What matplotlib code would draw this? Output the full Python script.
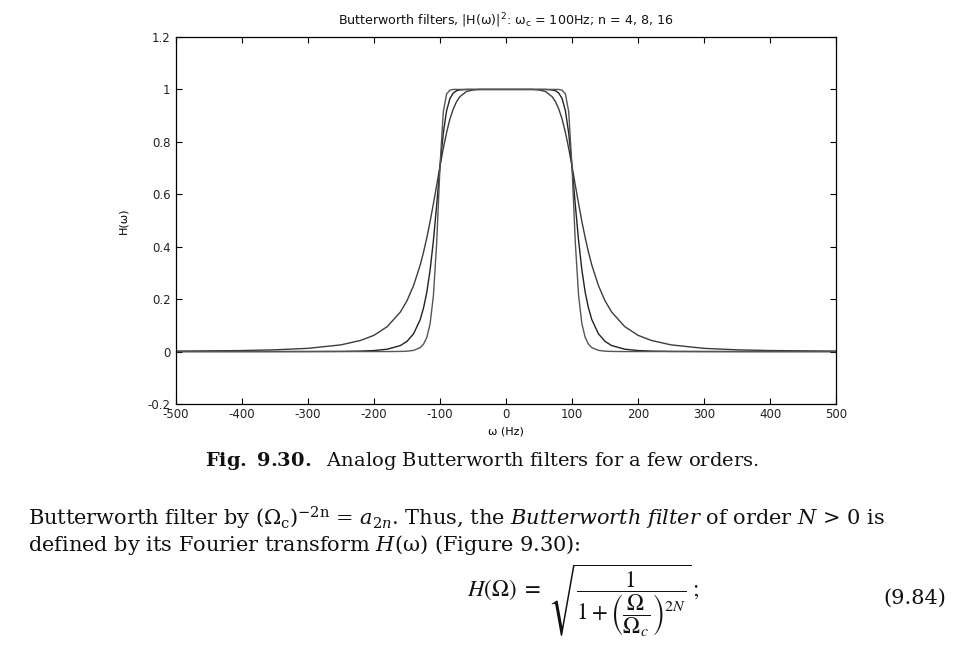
import matplotlib
matplotlib.use("Agg")
import matplotlib.pyplot as plt
import numpy as np

# frequency grid (Hz)
freq = [-500, -400, -350, -300, -250, -220, -200, -180, -160, -150, -140, -130, -125, -120,
        -115, -110, -105, -100, -95, -90, -85, -80, -75, -70, -60, -50, -40, 0,
        40, 50, 60, 70, 75, 80, 85, 90, 95, 100, 105, 110, 115, 120, 125, 130,
        140, 150, 160, 180, 200, 220, 250, 300, 350, 400, 500]

h_n4 = [0.0016, 0.0039, 0.0067, 0.0123, 0.0256, 0.0427, 0.062, 0.095, 0.151, 0.194, 0.252, 0.330, 0.379, 0.434,
        0.496, 0.564, 0.635, 0.707, 0.775, 0.836, 0.887, 0.925, 0.953, 0.972, 0.992, 0.998, 1.0, 1.0,
        1.0, 0.998, 0.992, 0.972, 0.953, 0.925, 0.887, 0.836, 0.775, 0.707, 0.635, 0.564, 0.496, 0.434, 0.379, 0.330,
        0.252, 0.194, 0.151, 0.095, 0.062, 0.0427, 0.0256, 0.0123, 0.0067, 0.0039, 0.0016]

h_n8 = [0.0, 0.0, 0.0, 0.0002, 0.0007, 0.0018, 0.0039, 0.009, 0.023, 0.039, 0.068, 0.122, 0.166, 0.226,
        0.311, 0.423, 0.560, 0.707, 0.833, 0.919, 0.965, 0.986, 0.995, 0.998, 1.0, 1.0, 1.0, 1.0,
        1.0, 1.0, 1.0, 0.998, 0.995, 0.986, 0.965, 0.919, 0.833, 0.707, 0.560, 0.423, 0.311, 0.226, 0.166, 0.122,
        0.068, 0.039, 0.023, 0.009, 0.0039, 0.0018, 0.0007, 0.0002, 0.0, 0.0, 0.0]

h_n16 = [0.0, 0.0, 0.0, 0.0, 0.0, 0.0, 0.0, 0.0, 0.0005, 0.0015, 0.0046, 0.015, 0.028, 0.054,
         0.106, 0.213, 0.416, 0.707, 0.915, 0.983, 0.997, 1.0, 1.0, 1.0, 1.0, 1.0, 1.0, 1.0,
         1.0, 1.0, 1.0, 1.0, 1.0, 1.0, 0.997, 0.983, 0.915, 0.707, 0.416, 0.213, 0.106, 0.054, 0.028, 0.015,
         0.0046, 0.0015, 0.0005, 0.0, 0.0, 0.0, 0.0, 0.0, 0.0, 0.0, 0.0]

xticks = [-500, -400, -300, -200, -100, 0, 100, 200, 300, 400, 500]
yticks = [-0.2, 0, 0.2, 0.4, 0.6, 0.8, 1, 1.2]
ytick_labels = ["-0.2", "0", "0.2", "0.4", "0.6", "0.8", "1", "1.2"]

sans = ["DejaVu Sans"]
serif = ["DejaVu Serif"]

fig = plt.figure(figsize=(9.6, 6.55), dpi=100)
ax = fig.add_axes([176 / 960, 1 - 404 / 655, 660 / 960, 367 / 655])

ax.plot(freq, h_n4, color="#3c3c3c", lw=1.0)
ax.plot(freq, h_n8, color="#222222", lw=1.0)
ax.plot(freq, h_n16, color="#555555", lw=1.0)

ax.set_xlim(-500, 500)
ax.set_ylim(-0.2, 1.2)
ax.set_xticks(xticks)
ax.set_xticklabels([str(t) for t in xticks], fontfamily=sans, fontsize=8.5, color="#222222")
ax.set_yticks(yticks)
ax.set_yticklabels(ytick_labels, fontfamily=sans, fontsize=8.5, color="#222222")
ax.tick_params(direction="in", length=4, width=0.8, top=True, right=True)
ax.tick_params(axis="x", pad=3)
ax.tick_params(axis="y", pad=4)
for s in ax.spines.values():
    s.set_linewidth(0.9)

title = ax.set_title(r"Butterworth filters, |H(ω)|$^2$: ω$_\mathregular{c}$ = 100Hz; n = 4, 8, 16",
                     fontfamily=sans, fontsize=8.5, pad=9, math_fontfamily="dejavusans", color="#111111")
ax.set_xlabel("ω (Hz)", fontfamily=sans, fontsize=8, labelpad=4)
ax.set_ylabel("H(ω)", fontfamily=sans, fontsize=8, labelpad=14)

cap = fig.text(482 / 960, 1 - 461 / 655,
               r"$\mathbf{Fig.\ 9.30.}$  Analog Butterworth filters for a few orders.",
               ha="center", va="center", fontfamily=serif, fontsize=12, math_fontfamily="dejavuserif",
               color="#111111")

line1 = fig.text(28 / 960, 1 - 518 / 655,
                 r"Butterworth filter by (Ω$_\mathregular{c}$)$^{-2\mathregular{n}}$ = $a_{2n}$. Thus, the $\mathit{Butterworth\ filter}$ of order $N$ > 0 is",
                 ha="left", va="center", fontfamily=serif, fontsize=15, math_fontfamily="dejavuserif",
                 color="#111111")
line2 = fig.text(28 / 960, 1 - 545 / 655,
                 r"defined by its Fourier transform $H$(ω) (Figure 9.30):",
                 ha="left", va="center", fontfamily=serif, fontsize=15, math_fontfamily="dejavuserif",
                 color="#111111")

eq = fig.text(583 / 960, 1 - 601 / 655,
              r"$H(\Omega)\ =\ \sqrt{\dfrac{1}{1+\left(\dfrac{\Omega}{\Omega_c}\right)^{2N}}}\,;$",
              ha="center", va="center", fontsize=14, math_fontfamily="stix", color="#111111")
num = fig.text(946 / 960, 1 - 598 / 655, "(9.84)", ha="right", va="center",
               fontfamily=serif, fontsize=15, color="#111111")


def fit_width(t, target_px, iters=2):
    for _ in range(iters):
        fig.canvas.draw()
        w = t.get_window_extent(fig.canvas.get_renderer()).width
        t.set_fontsize(t.get_fontsize() * target_px / w)


fit_width(title, 337)
fit_width(cap, 553)
fit_width(eq, 233)

fig.savefig("out.png", dpi=100)
